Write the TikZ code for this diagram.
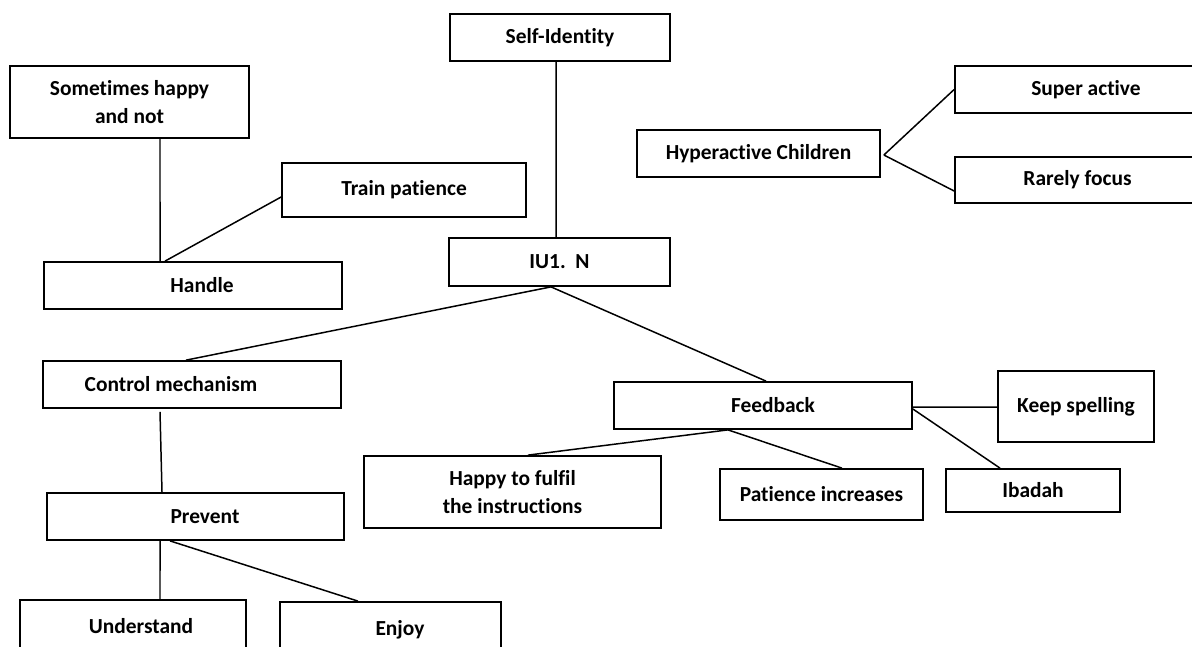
\documentclass[tikz,border=0pt]{standalone}
\usepackage{fontspec}
\setmainfont{Carlito}[Ligatures=NoCommon]
\tikzset{
    box/.style={draw, line width=1pt, inner sep=0pt, align=center},
    link/.style={line width=0.85pt},
    sz/.style 2 args={minimum width=#1*0.02cm, minimum height=#2*0.02cm}
}
\begin{document}
\begin{tikzpicture}[x=0.02cm, y=-0.02cm, font=\fontsize{12.2}{15.9}\selectfont\bfseries]
    \clip (0,0) rectangle (1192,646);

    % centre
    \node[box, sz={220}{47}] (self) at (560,37.5) {Self-Identity};
    \node[box, sz={221}{48}] (iu) at (559.5,262) {IU1.~~N};

    % left branch
    \node[box, sz={239}{72}] (mood) at (129.5,102) {Sometimes happy\\and not};
    \node[box, sz={244}{54}] (train) at (404,190) {Train patience};
    \node[box, sz={298}{47}, label={[xshift=0.18cm]center:Handle}] (handle) at (193,285.5) {};

    % hyperactive
    \node[box, sz={243}{47}] (hyper) at (758.5,153.5) {Hyperactive Children};
    \node[box, sz={245}{47}, label={[xshift=0.17cm]center:Super active}] (super) at (1077.5,89.5) {};
    \node[box, sz={245}{46}] (rarely) at (1077.5,180) {Rarely focus};

    % control
    \node[box, sz={298}{47}, label={[xshift=-0.42cm]center:Control mechanism}] (control) at (192,384.5) {};
    \node[box, sz={297}{47}, label={[xshift=0.19cm]center:Prevent}] (prevent) at (195.5,516.5) {};
    \node[box, sz={226}{52}, label={[xshift=0.16cm]center:Understand}] (understand) at (133,626) {};
    \node[box, sz={221}{54}, label={[xshift=0.19cm, yshift=-0.02cm]center:Enjoy}] (enjoy) at (390.5,629) {};

    % feedback
    \node[box, sz={298}{47}, label={[xshift=0.2cm]center:Feedback}] (feedback) at (763,405.5) {};
    \node[box, sz={297}{72}] (fulfil) at (512.5,492) {Happy to fulfil\\the instructions};
    \node[box, sz={203}{51}] (patience) at (821.5,494.5) {Patience increases};
    \node[box, sz={156}{71}] (keep) at (1076,406.5) {Keep spelling};
    \node[box, sz={174}{43}] (ibadah) at (1033,490.5) {Ibadah};

    % links
    \draw[link] ([xshift=0.61cm]mood.south) -- ([xshift=-0.66cm]handle.north);
    \draw[link] ([xshift=-0.56cm]handle.north) -- ([yshift=-0.14cm]train.west);
    \draw[link] ([xshift=-0.08cm]self.south) -- ([xshift=-0.07cm]iu.north);
    \draw[link] ([xshift=0.06cm, yshift=-0.03cm]hyper.east) -- (super.west);
    \draw[link] ([xshift=0.06cm, yshift=-0.03cm]hyper.east) -- ([yshift=-0.22cm]rarely.west);
    \draw[link] ([xshift=-0.17cm]iu.south) -- ([xshift=-0.12cm]control.north);
    \draw[link] ([xshift=-0.17cm]iu.south) -- ([xshift=0.06cm]feedback.north);
    \draw[link] ([xshift=-0.64cm, yshift=-0.06cm]control.south) -- ([xshift=-0.67cm]prevent.north);
    \draw[link] ([xshift=-0.71cm]prevent.south) -- ([xshift=0.54cm]understand.north);
    \draw[link] ([xshift=-0.51cm]prevent.south) -- ([xshift=-0.65cm]enjoy.north);
    \draw[link] ([xshift=-0.7cm]feedback.south) -- ([xshift=0.31cm]fulfil.north);
    \draw[link] ([xshift=-0.7cm]feedback.south) -- ([xshift=0.41cm]patience.north);
    \draw[link] ([yshift=-0.03cm]feedback.east) -- ([yshift=-0.01cm]keep.west);
    \draw[link] ([yshift=-0.07cm]feedback.east) -- ([xshift=-0.66cm]ibadah.north);
\end{tikzpicture}
\end{document}
